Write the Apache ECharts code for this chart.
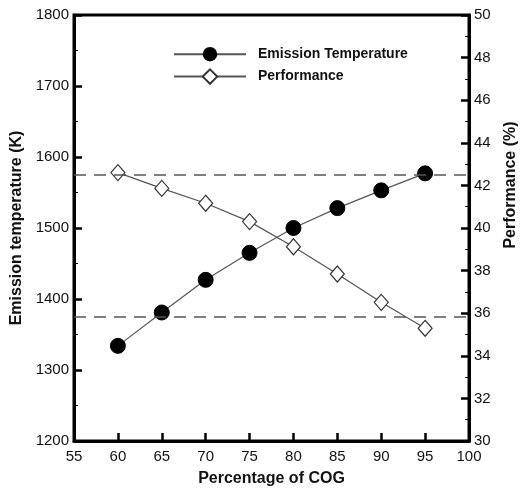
<!DOCTYPE html>
<html>
<head>
<meta charset="utf-8">
<script src="https://cdn.jsdelivr.net/npm/echarts@6/dist/echarts.min.js"></script>
<style>
  html, body { margin: 0; padding: 0; background: #fff; }
  #main { width: 520px; height: 490px; }
</style>
</head>
<body>
<div id="main"></div>
<script>
// 数据
var cogPercent = [60, 65, 70, 75, 80, 85, 90, 95];
var emissionTemp = [1334, 1381, 1427, 1465, 1500, 1528, 1553, 1577];
var performance = [42.6, 41.86, 41.16, 40.3, 39.12, 37.84, 36.51, 35.29];
var refLines = [1575, 1375];

var font = 'Liberation Sans, Arial, sans-serif';

var myChart = echarts.init(document.getElementById('main'));

// 左右两个 y 轴共用的样式
function yAxisBase(min, max, interval) {
    return {
        type: 'value',
        min: min,
        max: max,
        interval: interval,
        nameLocation: 'middle',
        nameTextStyle: { fontFamily: font, fontSize: 16, fontWeight: 'bold', color: '#111' },
        axisLine: { show: true, lineStyle: { color: '#000', width: 3 } },
        axisTick: { show: true, inside: true, length: 8, lineStyle: { color: '#000', width: 2.5 } },
        minorTick: { show: true, splitNumber: 2, length: 4, lineStyle: { color: '#000', width: 1 } },
        axisLabel: {
            fontFamily: font, fontSize: 15, color: '#111', margin: 5,
            formatter: function (v) { return String(v); }
        },
        splitLine: { show: false }
    };
}

var leftAxis = yAxisBase(1200, 1800, 100);
leftAxis.name = 'Emission temperature (K)';
leftAxis.position = 'left';
leftAxis.nameGap = 39;

var rightAxis = yAxisBase(30, 50, 2);
rightAxis.name = 'Performance (%)';
rightAxis.position = 'right';
rightAxis.nameGap = 34;
rightAxis.nameTextStyle.padding = [0, 0, 0, 86];

var option = {
    animation: false,
    grid: {
        left: 74, right: 51, top: 15, bottom: 49,
        outerBoundsMode: 'none',
        containLabel: false,
        show: true, borderColor: '#000', borderWidth: 3, backgroundColor: 'transparent'
    },
    legend: {
        left: 173,
        top: 47,
        padding: 0,
        orient: 'vertical',
        itemWidth: 72,
        itemHeight: 18,
        itemGap: 7,
        textStyle: { fontFamily: font, fontSize: 14, fontWeight: 'bold', color: '#111', padding: [0, 0, 0, 7] },
        data: ['Emission Temperature', 'Performance']
    },
    xAxis: {
        type: 'value',
        min: 55,
        max: 100,
        interval: 5,
        name: 'Percentage of COG',
        nameLocation: 'middle',
        nameGap: 30,
        nameTextStyle: { fontFamily: font, fontSize: 16, fontWeight: 'bold', color: '#111' },
        axisLine: { show: true, lineStyle: { color: '#000', width: 3 } },
        axisTick: { show: true, inside: true, length: 8, lineStyle: { color: '#000', width: 2.5 } },
        axisLabel: { fontFamily: font, fontSize: 15, color: '#111', margin: 8 },
        splitLine: { show: false }
    },
    yAxis: [leftAxis, rightAxis],
    series: [
        {
            name: 'Emission Temperature',
            type: 'line',
            yAxisIndex: 0,
            data: cogPercent.map(function (x, i) { return [x, emissionTemp[i]]; }),
            symbol: 'circle',
            symbolSize: 15,
            lineStyle: { color: '#555', width: 1.2 },
            itemStyle: { color: '#000', borderColor: '#000' },
            markLine: {
                silent: true,
                symbol: ['none', 'none'],
                label: { show: false },
                lineStyle: { color: '#555', type: [12, 8], width: 1.5 },
                data: refLines.map(function (v) { return { yAxis: v }; })
            },
            z: 3
        },
        {
            name: 'Performance',
            type: 'line',
            yAxisIndex: 1,
            data: cogPercent.map(function (x, i) { return [x, performance[i]]; }),
            symbol: 'diamond',
            symbolSize: [14, 16],
            lineStyle: { color: '#555', width: 1.2 },
            itemStyle: { color: '#fff', borderColor: '#333', borderWidth: 1.2 },
            z: 3
        }
    ]
};

myChart.setOption(option);
</script>
</body>
</html>
